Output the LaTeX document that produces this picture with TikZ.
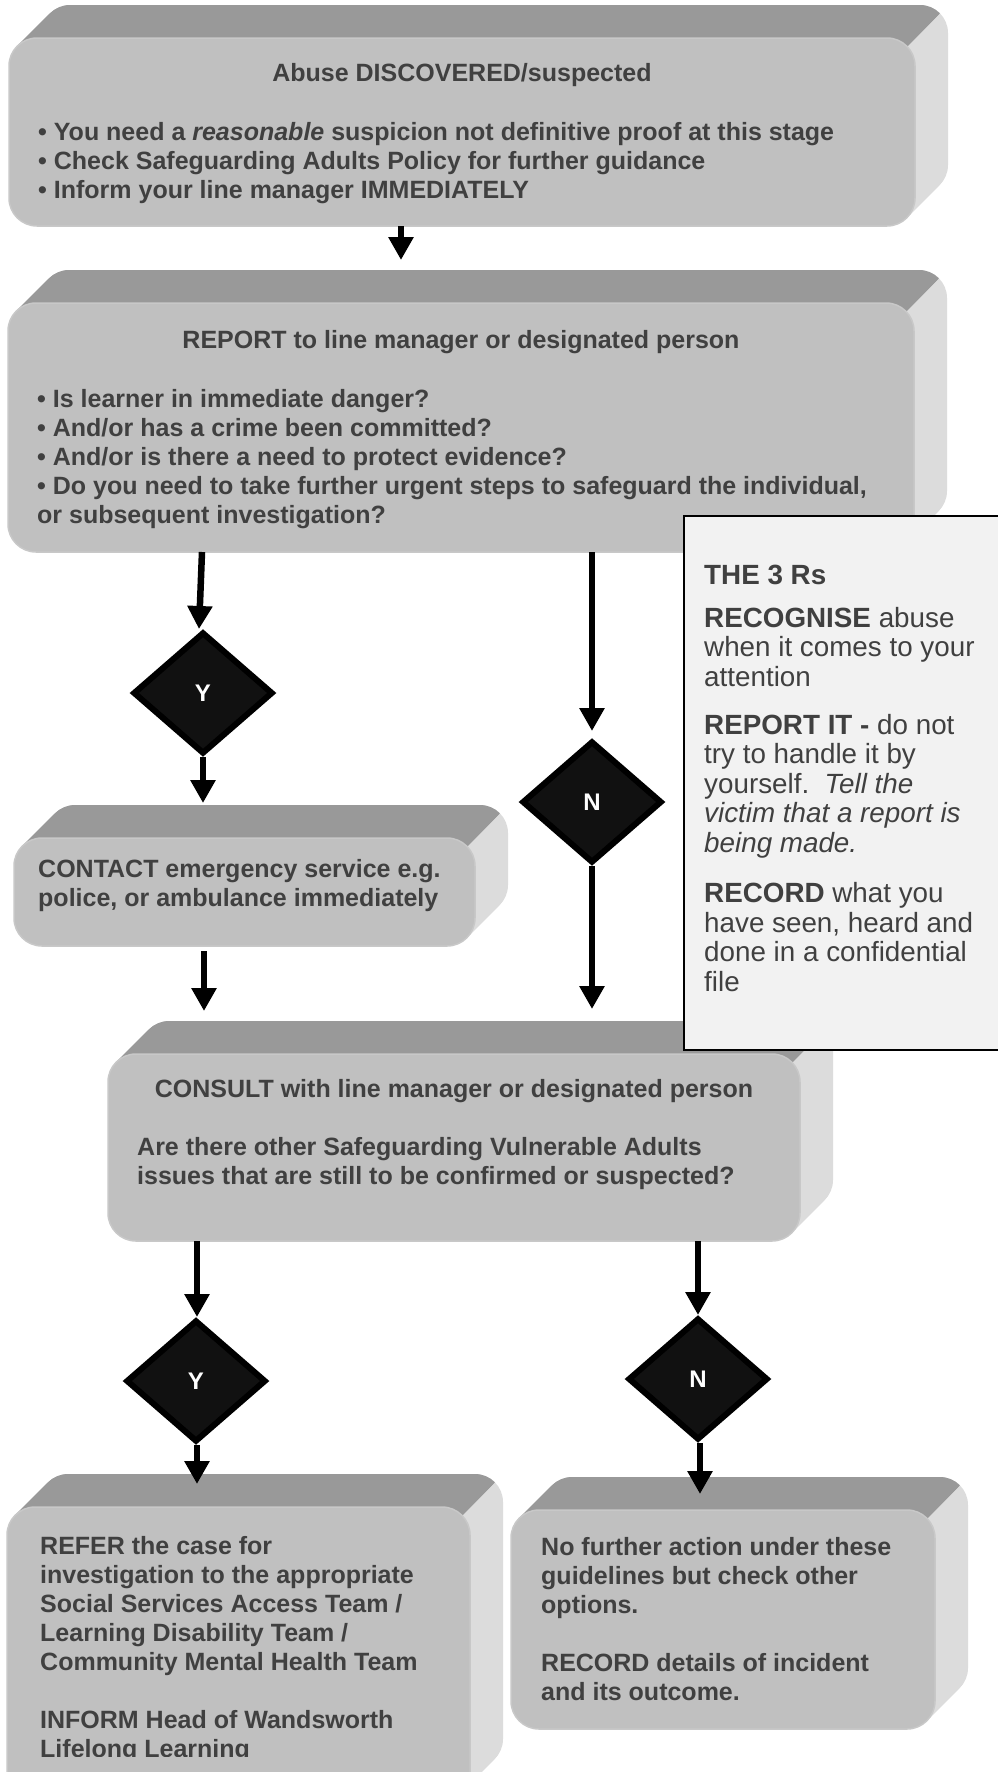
\documentclass[tikz,border=0pt]{standalone}
\usepackage{fontspec}
\setmainfont{Liberation Sans}
\usetikzlibrary{arrows.meta,shapes.geometric,calc}
\definecolor{topgray}{HTML}{999999}
\definecolor{sidegray}{HTML}{DCDCDC}
\definecolor{frontgray}{HTML}{C0C0C0}
\definecolor{rimgray}{HTML}{C8C8C8}
\definecolor{txtgray}{HTML}{404040}
\definecolor{notegray}{HTML}{F2F2F2}
\definecolor{diafill}{HTML}{111111}
\tikzset{
  frontface/.style={fill=frontgray,draw=rimgray,line width=1.5pt,rounded corners=28pt,inner sep=0pt,outer sep=0pt},
  boxtitle/.style={text=txtgray,font=\fontsize{25}{29}\selectfont\bfseries,inner sep=0pt,anchor=base},
  boxtext/.style={text=txtgray,font=\fontsize{25}{29}\selectfont\bfseries,inner sep=0pt,align=left,anchor=base west},
  notetext/.style={text=txtgray,font=\fontsize{27.8}{29.5}\selectfont,inner sep=0pt,align=left,anchor=base west},
  notebox/.style={draw=black,line width=2.5pt,fill=notegray,inner sep=0pt,outer sep=0pt,anchor=north west},
  dia/.style={shape=diamond,fill=diafill,draw=black,line width=6pt,minimum width=140pt,minimum height=122pt,inner sep=0pt,text=white,font=\fontsize{24}{28}\selectfont\bfseries},
  arr/.style={line width=6.5pt,-{Triangle[width=24pt,length=23pt]}}
}
% #1 name, #2 left, #3 top, #4 right, #5 bottom (front face, y downwards)
\newcommand\solidbox[5]{%
  \foreach \k in {0,...,33}{\fill[sidegray,rounded corners=28pt] (#2+\k,#3-\k) rectangle (#4+\k,#5-\k);}
  \begin{scope}
    \clip (#2-5,#3-40) -- (#4+40,#3-40) -- (#4+#3-#5,#5) -- (#2-5,#5) -- cycle;
    \foreach \k in {0,...,33}{\fill[topgray,rounded corners=28pt] (#2+\k,#3-\k) rectangle (#4+\k,#5-\k);}
  \end{scope}
  \node[frontface,minimum width={#4-#2},minimum height={#5-#3}] (#1) at ({(#2+#4)/2},{(#3+#5)/2}) {};
  \node[inner sep=0pt,outer sep=0pt,minimum width={#4-#2+33},minimum height={#5-#3+33}] (#1o) at ({(#2+#4+33)/2},{(#3+#5-33)/2}) {};
}
\begin{document}
\begin{tikzpicture}[x=1pt,y=-1pt]
\useasboundingbox (0,0) rectangle (998,1772);
\clip (0,0) rectangle (998,1772);
\fill[white] (0,0) rectangle (998,1772);

% 3D boxes
\solidbox{b1}{9}{38}{915}{226}
\solidbox{b2}{8}{303}{914}{552}
\solidbox{b3}{14}{838}{475}{946}
\solidbox{b4}{108}{1054}{800}{1241}
\solidbox{b5}{7}{1507}{470}{1800}
\solidbox{b6}{511}{1510}{935}{1729}

% box texts (multi-line nodes are placed by the baseline of their last line)
\node[boxtitle] (t1) at (462,81) {Abuse DISCOVERED/suspected};
\node[boxtext] (t1b) at (38,198) {• You need a \textit{reasonable} suspicion not definitive proof at this stage\\• Check Safeguarding Adults Policy for further guidance\\• Inform your line manager IMMEDIATELY};

\node[boxtitle] (t2) at (461,348) {REPORT to line manager or designated person};
\node[boxtext] (t2b) at (37,523) {• Is learner in immediate danger?\\• And/or has a crime been committed?\\• And/or is there a need to protect evidence?\\• Do you need to take further urgent steps to safeguard the individual,\\or subsequent investigation?};

\node[boxtext] (t3) at (38,906) {CONTACT emergency service e.g.\\police, or ambulance immediately};

\node[boxtitle] (t4) at (454,1097) {CONSULT with line manager or designated person};
\node[boxtext] (t4b) at (137,1184) {Are there other Safeguarding Vulnerable Adults\\issues that are still to be confirmed or suspected?};

\begin{scope}
  \clip (0,0) rectangle (998,1756);
  \node[boxtext] (t5) at (40,1757) {REFER the case for\\investigation to the appropriate\\Social Services Access Team /\\Learning Disability Team /\\Community Mental Health Team\\[29pt]INFORM Head of Wandsworth\\Lifelong Learning};
\end{scope}

\node[boxtext] (t6) at (541,1700) {No further action under these\\guidelines but check other\\options.\\[29pt]RECORD details of incident\\and its outcome.};

% the 3 Rs note
\node[notebox,minimum width=330pt,minimum height=534pt] (rs) at (684,516) {};
\node[notetext] (t7) at (704,991) {\textbf{THE 3 Rs}\\[13.5pt]\textbf{RECOGNISE} abuse\\when it comes to your\\attention\\[18.5pt]\textbf{REPORT IT -} do not\\try to handle it by\\yourself.\ \ \textit{Tell the}\\\textit{victim that a report is}\\\textit{being made.}\\[21pt]\textbf{RECORD} what you\\have seen, heard and\\done in a confidential\\file};

% decisions
\node[dia] (Y1) at (203,693) {Y};
\node[dia] (N1) at (592,802) {N};
\node[dia] (Y2) at (196,1381) {Y};
\node[dia] (N2) at (698,1379) {N};

% connectors
\coordinate (a1s) at ([xshift=-61pt]b1.south);
\draw[arr] (a1s) -- ($(b2o.north -| a1s)+(0,-10)$);
\draw[arr] ($(b2.south -| Y1.north)+(-1,0)$) -- ($(Y1.north)+(-4,0)$);
\draw[arr] (b2.south -| N1.north) -- ($(N1.north)+(0,-7)$);
\draw[arr] (Y1.south) -- ($(b3o.north -| Y1.south)+(0,-2)$);
\draw[arr] (N1.south) -- ($(b4o.north -| N1.south)+(0,-12)$);
\draw[arr] ($(b3.south -| Y1.south)+(1,5)$) -- ($(b4o.north -| Y1.south)+(1,-10)$);
\draw[arr] ($(b4.south -| Y2.north)+(1,0)$) -- ($(Y2.north)+(1,0)$);
\draw[arr] (b4.south -| N2.north) -- (N2.north);
\draw[arr] ($(Y2.south)+(1,0)$) -- ($(b5o.north -| Y2.south)+(1,10)$);
\draw[arr] ($(N2.south)+(2,0)$) -- ($(b6o.north -| N2.south)+(2,17)$);
\end{tikzpicture}
\end{document}
